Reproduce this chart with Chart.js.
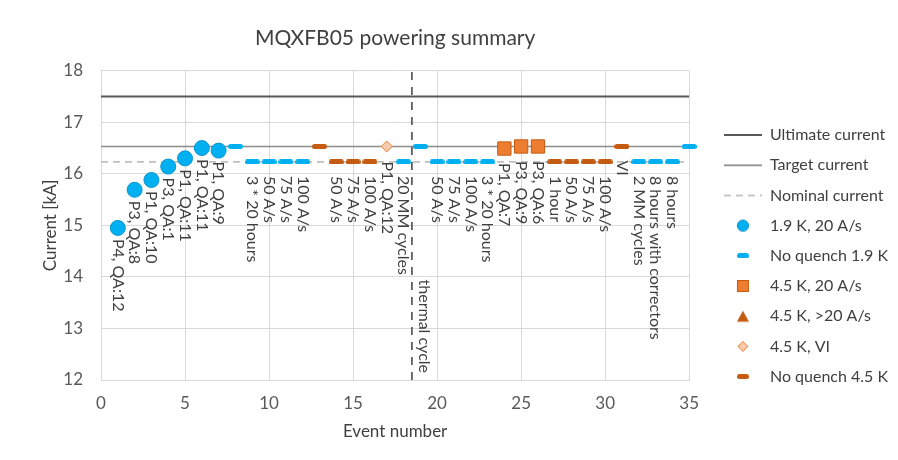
<!DOCTYPE html>
<html>
<head>
<meta charset="utf-8">
<script src="https://cdn.jsdelivr.net/npm/chart.js@4.4.1/dist/chart.umd.min.js"></script>
<style>
html,body{margin:0;padding:0;background:#ffffff;}
#wrap{width:898px;height:460px;}
</style>
</head>
<body>
<div id="wrap"><canvas id="c" width="898" height="460"></canvas></div>
<script>
// ---------------- data ----------------
const chartTitle = 'MQXFB05 powering summary';
const xAxisTitle = 'Event number';
const yAxisTitle = 'Current [kA]';
const xMin = 0, xMax = 35, xStep = 5;
const yMin = 12, yMax = 18, yStep = 1;

const ultimateCurrent = 17.5;
const targetCurrent = 16.53;
const nominalCurrent = 16.23;
const thermalCycleEvent = 18.5;
const thermalCycleText = 'thermal cycle';

// 1.9 K, 20 A/s quenches
const q19Events   = [1, 2, 3, 4, 5, 6, 7];
const q19Currents = [14.95, 15.69, 15.88, 16.14, 16.30, 16.50, 16.45];
const q19Labels   = ['P4, QA:12', 'P3, QA:8', 'P1, QA:10', 'P3, QA:1', 'P1, QA:11', 'P1, QA:11', 'P1, QA:9'];

// No quench 1.9 K
const nq19Events   = [8, 9, 10, 11, 12, 18, 19, 20, 21, 22, 23, 32, 33, 34, 35];
const nq19Currents = [16.53, 16.23, 16.23, 16.23, 16.23, 16.23, 16.53, 16.23, 16.23, 16.23, 16.23, 16.23, 16.23, 16.23, 16.53];
const nq19Labels   = ['', '3 * 20 hours', '50 A/s', '75 A/s', '100 A/s', '20 MM cycles', '', '50 A/s', '75 A/s', '100 A/s', '3 * 20 hours', '2 MM cycles', '8 hours with correctors', '8 hours', ''];

// 4.5 K, 20 A/s quenches
const q45Events   = [24, 25, 26];
const q45Currents = [16.49, 16.53, 16.53];
const q45Labels   = ['P1, QA:7', 'P3, QA:9', 'P3, QA:6'];

// 4.5 K, >20 A/s quenches (none)
const q45FastEvents   = [];
const q45FastCurrents = [];

// 4.5 K, VI
const viEvents   = [17];
const viCurrents = [16.53];
const viLabels   = ['P1, QA:12'];

// No quench 4.5 K
const nq45Events   = [13, 14, 15, 16, 27, 28, 29, 30, 31];
const nq45Currents = [16.53, 16.23, 16.23, 16.23, 16.23, 16.23, 16.23, 16.23, 16.53];
const nq45Labels   = ['', '50 A/s', '75 A/s', '100 A/s', '1 hour', '50 A/s', '75 A/s', '100 A/s', 'VI'];

const legendNames = ['Ultimate current', 'Target current', 'Nominal current', '1.9 K, 20 A/s', 'No quench 1.9 K',
                     '4.5 K, 20 A/s', '4.5 K, >20 A/s', '4.5 K, VI', 'No quench 4.5 K'];

// ---------------- styles ----------------
const FONT = 'Lato';
const TEXT = '#404040';
const TICK = '#595959';
const GRID = '#d9d9d9';
const BLUE = '#00B0F0';
const BLUE_EDGE = '#0A94CF';
const ORANGE = '#ED7D31';
const DARK_ORANGE = '#C55A11';
const LIGHT_ORANGE = '#F8CBAD';
const ULT_COLOR = '#595959';
const TGT_COLOR = '#8C8C8C';
const NOM_COLOR = '#BFBFBF';

function pts(xs, ys) { return xs.map((x, i) => ({x: x, y: ys[i]})); }

function mk(w, h, fn) {
  const c = document.createElement('canvas');
  c.width = w; c.height = h;
  fn(c.getContext('2d'), w, h);
  return c;
}
function dashImg(color, w, h) {
  return mk(w, h, (g) => {
    const r = h / 2;
    g.fillStyle = color;
    g.beginPath();
    g.moveTo(r, 0); g.lineTo(w - r, 0);
    g.arc(w - r, r, r, -Math.PI / 2, Math.PI / 2);
    g.lineTo(r, h);
    g.arc(r, r, r, Math.PI / 2, Math.PI * 1.5);
    g.closePath(); g.fill();
  });
}
function lineImg(color, width, dash) {
  return mk(38, 4, (g, w, h) => {
    g.strokeStyle = color; g.lineWidth = width;
    g.setLineDash(dash);
    g.beginPath(); g.moveTo(0, h / 2); g.lineTo(w, h / 2); g.stroke();
  });
}
const legCircle = mk(14, 14, (g) => {
  g.fillStyle = BLUE; g.strokeStyle = BLUE_EDGE; g.lineWidth = 1;
  g.beginPath(); g.arc(7, 7, 5.6, 0, Math.PI * 2); g.fill(); g.stroke();
});
const legSquare = mk(14, 14, (g) => {
  g.fillStyle = ORANGE; g.strokeStyle = DARK_ORANGE; g.lineWidth = 1;
  g.fillRect(1.5, 1.5, 11, 11); g.strokeRect(1.5, 1.5, 11, 11);
});
const legTriangle = mk(14, 14, (g) => {
  g.fillStyle = DARK_ORANGE;
  g.beginPath(); g.moveTo(7, 1.5); g.lineTo(13, 12.5); g.lineTo(1, 12.5); g.closePath(); g.fill();
});
const legDiamond = mk(14, 14, (g) => {
  g.fillStyle = LIGHT_ORANGE; g.strokeStyle = ORANGE; g.lineWidth = 1;
  g.beginPath(); g.moveTo(7, 2); g.lineTo(12, 7); g.lineTo(7, 12); g.lineTo(2, 7); g.closePath(); g.fill(); g.stroke();
});
const legendImgs = [
  lineImg(ULT_COLOR, 2, []), lineImg(TGT_COLOR, 1.75, []), lineImg(NOM_COLOR, 1.75, [7, 5]),
  legCircle, dashImg(BLUE, 12, 5), legSquare, legTriangle, legDiamond, dashImg(DARK_ORANGE, 12, 5)
];
const blueDash = dashImg(BLUE, 15, 5);
const orangeDash = dashImg(DARK_ORANGE, 15, 5);

// ---------------- datasets ----------------
const datasets = [
  {label: legendNames[0], data: pts([xMin, xMax], [ultimateCurrent, ultimateCurrent]), showLine: true,
   borderColor: ULT_COLOR, borderWidth: 2, pointRadius: 0, order: 10},
  {label: legendNames[1], data: pts([xMin, xMax], [targetCurrent, targetCurrent]), showLine: true,
   borderColor: TGT_COLOR, borderWidth: 1.5, pointRadius: 0, order: 10},
  {label: legendNames[2], data: pts([xMin, xMax], [nominalCurrent, nominalCurrent]), showLine: true,
   borderColor: NOM_COLOR, borderWidth: 1.75, borderDash: [7, 5], pointRadius: 0, order: 10},
  {label: 'thermal cycle line', data: pts([thermalCycleEvent, thermalCycleEvent], [yMin, yMax]), showLine: true,
   borderColor: '#404040', borderWidth: 1.5, borderDash: [8, 7], pointRadius: 0, order: 9},
  {label: legendNames[3], data: pts(q19Events, q19Currents), pointStyle: 'circle', pointRadius: 7.5,
   backgroundColor: BLUE, borderColor: BLUE_EDGE, borderWidth: 1, pointLabels: q19Labels, labelOffset: 11, order: 1, clip: false},
  {label: legendNames[4], data: pts(nq19Events, nq19Currents), pointStyle: blueDash, pointRadius: 7,
   backgroundColor: BLUE, borderColor: BLUE, pointLabels: nq19Labels, labelOffset: 14, order: 2, clip: false},
  {label: legendNames[5], data: pts(q45Events, q45Currents), pointStyle: 'rect', pointRadius: 9.4,
   backgroundColor: ORANGE, borderColor: DARK_ORANGE, borderWidth: 1, pointLabels: q45Labels, labelOffset: 14.5, order: 1, clip: false},
  {label: legendNames[6], data: pts(q45FastEvents, q45FastCurrents), pointStyle: 'triangle', pointRadius: 7,
   backgroundColor: DARK_ORANGE, borderColor: DARK_ORANGE, order: 1},
  {label: legendNames[7], data: pts(viEvents, viCurrents), pointStyle: 'rectRot', pointRadius: 5.5,
   backgroundColor: LIGHT_ORANGE, borderColor: ORANGE, borderWidth: 1, pointLabels: viLabels, labelOffset: 15, order: 1, clip: false},
  {label: legendNames[8], data: pts(nq45Events, nq45Currents), pointStyle: orangeDash, pointRadius: 7,
   backgroundColor: DARK_ORANGE, borderColor: DARK_ORANGE, pointLabels: nq45Labels, labelOffset: 14, order: 2, clip: false}
];

// ---------------- plugin for rotated data labels ----------------
const pointLabelPlugin = {
  id: 'pointLabelPlugin',
  afterDatasetsDraw(chart) {
    const ctx = chart.ctx;
    ctx.save();
    ctx.font = '16px ' + FONT;
    ctx.fillStyle = TEXT;
    ctx.textBaseline = 'middle';
    chart.data.datasets.forEach((ds, i) => {
      if (!ds.pointLabels) return;
      const meta = chart.getDatasetMeta(i);
      meta.data.forEach((el, j) => {
        const t = ds.pointLabels[j];
        if (!t) return;
        ctx.save();
        ctx.translate(el.x, el.y + ds.labelOffset);
        ctx.rotate(Math.PI / 2);
        ctx.textAlign = 'left';
        ctx.fillText(t, 0, 0);
        ctx.restore();
      });
    });
    const xs = chart.scales.x, ys = chart.scales.y;
    ctx.save();
    ctx.translate(xs.getPixelForValue(thermalCycleEvent) + 12, ys.getPixelForValue(yMin) - 7);
    ctx.rotate(Math.PI / 2);
    ctx.textAlign = 'right';
    ctx.fillText(thermalCycleText, 0, 0);
    ctx.restore();
    ctx.restore();
  }
};

const legendItems = legendNames.map((name, i) => ({
  text: name, pointStyle: legendImgs[i], fillStyle: 'rgba(0,0,0,0)', strokeStyle: 'rgba(0,0,0,0)',
  lineWidth: 0, hidden: false, fontColor: TEXT
}));

new Chart(document.getElementById('c'), {
  type: 'scatter',
  data: {datasets: datasets},
  options: {
    responsive: false,
    animation: false,
    devicePixelRatio: 1,
    layout: {padding: 0},
    plugins: {
      title: {display: true, text: chartTitle, fullSize: false, color: TEXT,
              font: {family: FONT, size: 21, weight: 'normal'}, padding: {top: 25.4, bottom: 20.1}},
      legend: {
        position: 'right', align: 'start', maxWidth: 189,
        title: {display: true, text: '', font: {size: 12}, padding: {top: 98.4, bottom: 0}},
        labels: {usePointStyle: true, pointStyleWidth: 38, padding: 14.2, color: TEXT,
                 font: {family: FONT, size: 16}, generateLabels: () => legendItems}
      },
      tooltip: {enabled: false}
    },
    scales: {
      x: {
        type: 'linear', min: xMin, max: xMax,
        ticks: {stepSize: xStep, padding: 13, color: TICK, font: {family: FONT, size: 17}},
        grid: {color: GRID, drawTicks: false},
        border: {display: true, color: GRID},
        title: {display: true, text: xAxisTitle, color: TEXT, font: {family: FONT, size: 17}, padding: {top: 0, bottom: 17.8}},
        afterFit(s) { s.height = 80; }
      },
      y: {
        type: 'linear', min: yMin, max: yMax,
        ticks: {stepSize: yStep, padding: 18, color: TICK, font: {family: FONT, size: 17}},
        grid: {color: GRID, drawTicks: false},
        border: {display: true, color: GRID},
        title: {display: true, text: yAxisTitle, color: TEXT, font: {family: FONT, size: 17}, padding: {top: 40.5, bottom: 0}},
        afterFit(s) { s.width = 101; }
      },
      y2: {
        axis: 'y', position: 'right', display: true,
        grid: {display: false}, ticks: {display: false}, border: {display: false},
        afterFit(s) { s.width = 20.5; }
      }
    }
  },
  plugins: [pointLabelPlugin]
});
</script>
</body>
</html>
